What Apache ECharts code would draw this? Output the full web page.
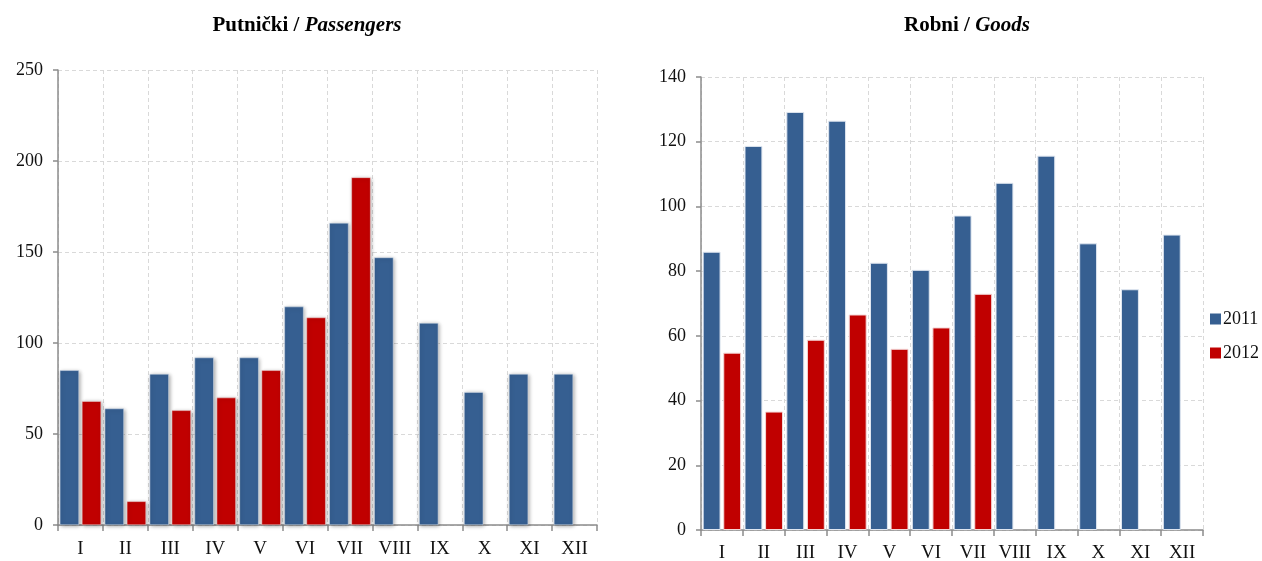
<!DOCTYPE html>
<html><head><meta charset="utf-8">
<script src="https://cdn.jsdelivr.net/npm/echarts@6/dist/echarts.min.js"></script>
<style>html,body{margin:0;padding:0;background:#fff}#c{width:1262px;height:561px}</style>
</head><body><div id="c"></div>
<script>
const months = ['I','II','III','IV','V','VI','VII','VIII','IX','X','XI','XII'];
const pass2011 = [85, 64, 83, 92, 92, 120, 166, 147, 111, 73, 83, 83];
const pass2012 = [68, 13, 63, 70, 85, 114, 191];
const goods2011 = [86, 118.7, 129.2, 126.5, 82.6, 80.4, 97.2, 107.3, 115.7, 88.6, 74.4, 91.3];
const goods2012 = [54.8, 36.6, 58.8, 66.6, 56, 62.6, 73];
const years = ['2011', '2012'];

const blue = '#365f91', red = '#c00000';
const ff = '"Liberation Serif","Times New Roman",serif';
const chart = echarts.init(document.getElementById('c'));
const axisLine = {lineStyle:{color:'#8c8c8c', width:1.5}};
const split = {show:true, lineStyle:{color:'#d9d9d9', type:[4,3]}};
function xAx(i, m){return {type:'category', gridIndex:i, data:months, boundaryGap:true,
  axisLine:axisLine, axisTick:{show:true, length:6, lineStyle:{color:'#8c8c8c',width:1.5}},
  axisLabel:{color:'#111', fontFamily:ff, fontSize:19, margin:m, interval:0},
  splitLine:split};}
function yAx(i,max,intv){return {type:'value', gridIndex:i, min:0, max:max, interval:intv,
  axisLine:{show:true, lineStyle:{color:'#8c8c8c', width:1.5}},
  axisTick:{show:true, length:5, lineStyle:{color:'#8c8c8c',width:1.5}},
  axisLabel:{color:'#111', fontFamily:ff, fontSize:18, margin:15},
  splitLine:split};}
const shadowL = {shadowBlur:4, shadowColor:'rgba(0,0,0,0.35)', shadowOffsetX:1, shadowOffsetY:1};
const titleRich = {rich:{b:{fontFamily:ff,fontWeight:'bold',fontSize:21,color:'#000'},bi:{fontFamily:ff,fontWeight:'bold',fontStyle:'italic',fontSize:21,color:'#000'}}};
chart.setOption({
  animation:false,
  title:[
    {text:'{b|Putnički / }{bi|Passengers}', left:302, top:10, textAlign:'center', textStyle:titleRich},
    {text:'{b|Robni / }{bi|Goods}', left:962, top:10, textAlign:'center', textStyle:titleRich}
  ],
  legend:{orient:'vertical', left:1205, top:305, icon:'rect', itemWidth:11, itemHeight:11, itemGap:16,
    itemStyle:{borderWidth:0, shadowBlur:0}, data:years,
    textStyle:{fontFamily:ff, fontSize:18, color:'#111', padding:[0,0,0,-3]}},
  grid:[
    {left:58, right:665, top:70, bottom:36, outerBoundsMode:'none', containLabel:false},
    {left:701, right:59, top:77, bottom:31, outerBoundsMode:'none', containLabel:false}
  ],
  xAxis:[xAx(0,15), xAx(1,14)],
  yAxis:[yAx(0,250,50), yAx(1,140,20)],
  series:[
    {name:'2011', type:'bar', xAxisIndex:0, yAxisIndex:0, data:pass2011, barCategoryGap:'8%', barGap:'15%',
     itemStyle:Object.assign({color:blue, borderColor:'#dfe6f0', borderWidth:0.5}, shadowL)},
    {name:'2012', type:'bar', xAxisIndex:0, yAxisIndex:0, data:pass2012, barCategoryGap:'8%', barGap:'15%',
     itemStyle:Object.assign({color:red, borderColor:'#f0dcdc', borderWidth:0.5}, shadowL)},
    {name:'2011', type:'bar', xAxisIndex:1, yAxisIndex:1, data:goods2011, barCategoryGap:'8%', barGap:'15%',
     itemStyle:{color:blue, borderColor:'#dfe6f0', borderWidth:1}},
    {name:'2012', type:'bar', xAxisIndex:1, yAxisIndex:1, data:goods2012, barCategoryGap:'8%', barGap:'15%',
     itemStyle:{color:red, borderColor:'#f3d6d6', borderWidth:1}}
  ]
});
</script></body></html>
